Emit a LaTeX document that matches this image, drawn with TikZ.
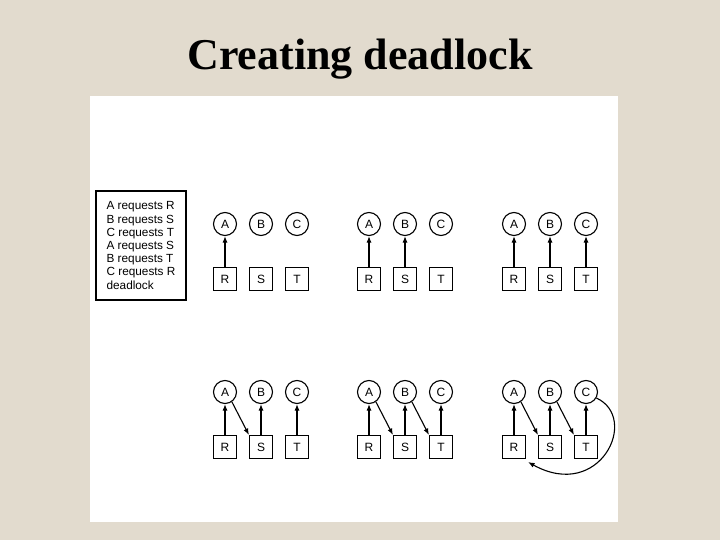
\documentclass[tikz,border=0pt]{standalone}
\usepackage{fontspec}
\setmainfont{Liberation Sans}
\newfontfamily\titlefont{Liberation Serif}
\usetikzlibrary{arrows.meta}
\definecolor{bgcol}{RGB}{226,219,206}
\begin{document}
\begin{tikzpicture}[x=1pt,y=-1pt,
  proc/.style={circle,draw,line width=1.1pt,minimum size=23pt,inner sep=0pt,font=\fontsize{12}{14}\selectfont},
  res/.style={rectangle,draw,line width=1.1pt,minimum size=23pt,inner sep=0pt,font=\fontsize{12}{14}\selectfont},
  arr/.style={line width=1.1pt,-{Latex[length=6.5pt,width=5pt]}},
  legendbox/.style={draw,line width=1.1pt,minimum width=90pt,minimum height=109pt,align=left,inner sep=0pt,font=\fontsize{11.8}{13.2}\selectfont}]
  \fill[bgcol] (0,0) rectangle (720,540);
  \useasboundingbox (0,0) rectangle (720,540);
  \fill[white] (90,96) rectangle (618,522);
  \node[font=\titlefont\bfseries\fontsize{44}{50}\selectfont] (title) at (360,59) {Creating deadlock};
  \node[legendbox] (legend) at (141,245.5) {A requests R\\B requests S\\C requests T\\A requests S\\B requests T\\C requests R\\deadlock};
  \foreach \i/\x/\y in {1/225/224, 2/369/224, 3/514/224, 4/225/392, 5/369/392, 6/514/392} {
    \node[proc] (A\i) at (\x,\y) {A};
    \node[proc] (B\i) at (\x+36,\y) {B};
    \node[proc] (C\i) at (\x+72,\y) {C};
    \node[res] (R\i) at (\x,\y+55) {R};
    \node[res] (S\i) at (\x+36,\y+55) {S};
    \node[res] (T\i) at (\x+72,\y+55) {T};
  }
  % panel 1
  \draw[arr] (R1) -- (A1);
  % panel 2
  \draw[arr] (R2) -- (A2);
  \draw[arr] (S2) -- (B2);
  % panel 3
  \draw[arr] (R3) -- (A3);
  \draw[arr] (S3) -- (B3);
  \draw[arr] (T3) -- (C3);
  % panel 4
  \draw[arr] (R4) -- (A4);
  \draw[arr] (S4) -- (B4);
  \draw[arr] (T4) -- (C4);
  \draw[arr] (A4.-55) -- (S4.north west);
  % panel 5
  \draw[arr] (R5) -- (A5);
  \draw[arr] (S5) -- (B5);
  \draw[arr] (T5) -- (C5);
  \draw[arr] (A5.-55) -- (S5.north west);
  \draw[arr] (B5.-55) -- (T5.north west);
  % panel 6
  \draw[arr] (R6) -- (A6);
  \draw[arr] (S6) -- (B6);
  \draw[arr] (T6) -- (C6);
  \draw[arr] (A6.-55) -- (S6.north west);
  \draw[arr] (B6.-55) -- (T6.north west);
  \draw[arr] (C6.-30) .. controls (640,418) and (600,502) .. ([xshift=2pt,yshift=-3pt]R6.south east);
\end{tikzpicture}
\end{document}
